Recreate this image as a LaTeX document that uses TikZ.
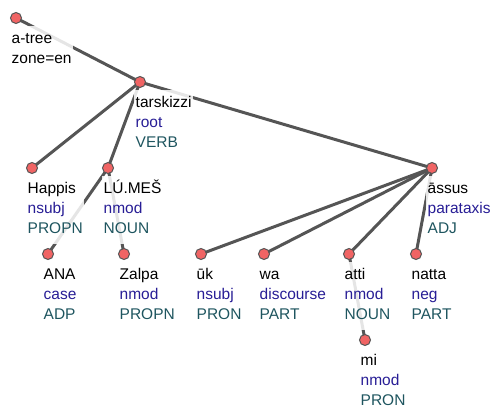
\documentclass[tikz,border=0pt]{standalone}
\usepackage{fontspec}
\setmainfont{Liberation Sans}
\usetikzlibrary{calc}
\definecolor{edgegray}{HTML}{555555}
\definecolor{dotred}{HTML}{F06464}
\definecolor{relblue}{RGB}{40,30,150}
\definecolor{posteal}{RGB}{30,85,95}
\newcommand{\rel}[1]{\textcolor{relblue}{#1}}
\newcommand{\upos}[1]{\textcolor{posteal}{#1}}
\pgfdeclarelayer{edges}
\pgfsetlayers{edges,main}
\begin{document}
\begin{tikzpicture}[x=1pt,y=1pt,
  dot/.style={circle,fill=dotred,draw=edgegray,line width=1pt,minimum size=11pt,inner sep=0pt},
  lbl/.style={anchor=north west,align=left,fill=white,fill opacity=0.85,text opacity=1,
    inner xsep=1.5pt,inner ysep=4pt,font=\fontsize{15.5}{20}\selectfont},
  dep/.style={draw=edgegray,line width=3pt}]
\useasboundingbox (0,0) rectangle (491,-407);

% tokens
\node[dot] (atree) at (16,-18) {};
\node[dot] (tarskizzi) at (140,-82) {};
\node[dot] (happis) at (32,-168) {};
\node[dot] (lumes) at (108,-168) {};
\node[dot] (assus) at (432,-168) {};
\node[dot] (ana) at (48,-254) {};
\node[dot] (zalpa) at (124,-254) {};
\node[dot] (uk) at (201,-254) {};
\node[dot] (wa) at (264,-254) {};
\node[dot] (atti) at (349,-254) {};
\node[dot] (natta) at (416,-254) {};
\node[dot] (mi) at (365,-340) {};

% labels: form, relation, part of speech
\node[lbl] (atree-l) at ($(atree)+(-6,-7.5)$) {\strut a-tree\\\strut zone=en};
\node[lbl] (tarskizzi-l) at ($(tarskizzi)+(-6,-7.5)$) {\strut tarskizzi\\\strut\rel{root}\\\strut\upos{VERB}};
\node[lbl] (happis-l) at ($(happis)+(-6,-7.5)$) {\strut Happis\\\strut\rel{nsubj}\\\strut\upos{PROPN}};
\node[lbl] (lumes-l) at ($(lumes)+(-6,-7.5)$) {\strut LÚ.MEŠ\\\strut\rel{nmod}\\\strut\upos{NOUN}};
\node[lbl] (assus-l) at ($(assus)+(-6,-7.5)$) {\strut āssus\\\strut\rel{parataxis}\\\strut\upos{ADJ}};
\node[lbl] (ana-l) at ($(ana)+(-6,-7.5)$) {\strut ANA\\\strut\rel{case}\\\strut\upos{ADP}};
\node[lbl] (zalpa-l) at ($(zalpa)+(-6,-7.5)$) {\strut Zalpa\\\strut\rel{nmod}\\\strut\upos{PROPN}};
\node[lbl] (uk-l) at ($(uk)+(-6,-7.5)$) {\strut ūk\\\strut\rel{nsubj}\\\strut\upos{PRON}};
\node[lbl] (wa-l) at ($(wa)+(-6,-7.5)$) {\strut wa\\\strut\rel{discourse}\\\strut\upos{PART}};
\node[lbl] (atti-l) at ($(atti)+(-6,-7.5)$) {\strut atti\\\strut\rel{nmod}\\\strut\upos{NOUN}};
\node[lbl] (natta-l) at ($(natta)+(-6,-7.5)$) {\strut natta\\\strut\rel{neg}\\\strut\upos{PART}};
\node[lbl] (mi-l) at ($(mi)+(-6,-7.5)$) {\strut mi\\\strut\rel{nmod}\\\strut\upos{PRON}};

% dependency edges, behind the labels
\begin{pgfonlayer}{edges}
\draw[dep] (atree.center) -- (tarskizzi.center);
\draw[dep] (tarskizzi.center) -- (happis.center);
\draw[dep] (tarskizzi.center) -- (lumes.center);
\draw[dep] (tarskizzi.center) -- (assus.center);
\draw[dep] (lumes.center) -- (ana.center);
\draw[dep] (lumes.center) -- (zalpa.center);
\draw[dep] (assus.center) -- (uk.center);
\draw[dep] (assus.center) -- (wa.center);
\draw[dep] (assus.center) -- (atti.center);
\draw[dep] (assus.center) -- (natta.center);
\draw[dep] (atti.center) -- (mi.center);
\end{pgfonlayer}
\end{tikzpicture}
\end{document}
